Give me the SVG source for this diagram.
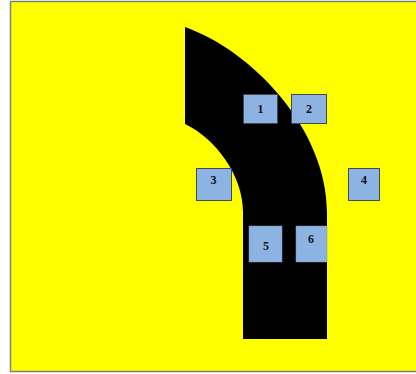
<svg xmlns="http://www.w3.org/2000/svg" width="416" height="374" viewBox="0 0 416 374">
<style>
.box{fill:#8DB3E2;stroke:#3F4A57;stroke-width:1}
.box2{fill:#8DB3E2;stroke:#7F9CC0;stroke-width:0.5}
.lbl{font-family:"Liberation Serif","Times New Roman",serif;font-weight:bold;font-size:12px;fill:#111;text-anchor:middle}
</style>
<rect x="0" y="0" width="416" height="374" fill="#FFFFFF"/>
<rect id="frame" x="10.5" y="1.5" width="410" height="370" fill="#FFFF00" stroke="#7F7F7F" stroke-width="1.5"/>
<g id="road">
<path d="M185,27 C253,51 327,130 327,212 L327,339 L243,339 L243,212 C243,175 215,138 185,124 Z" fill="#000000"/>
</g>
<g id="connectors"></g>
<g id="n1"><rect class="box" x="243.5" y="94.5" width="34" height="29"/><text class="lbl" x="260.5" y="113">1</text></g>
<g id="n2"><rect class="box" x="291.5" y="94.5" width="35" height="29"/><text class="lbl" x="309" y="113">2</text></g>
<g id="n3"><rect class="box" x="196.5" y="168.5" width="35" height="32"/><text class="lbl" x="213.5" y="184">3</text></g>
<g id="n4"><rect class="box" x="348.5" y="168.5" width="31" height="32"/><text class="lbl" x="364" y="184">4</text></g>
<g id="n5"><rect class="box2" x="249" y="226" width="33" height="36"/><text class="lbl" x="266" y="250">5</text></g>
<g id="n6"><rect class="box2" x="296" y="226" width="31" height="36"/><text class="lbl" x="311" y="243">6</text></g>
</svg>
